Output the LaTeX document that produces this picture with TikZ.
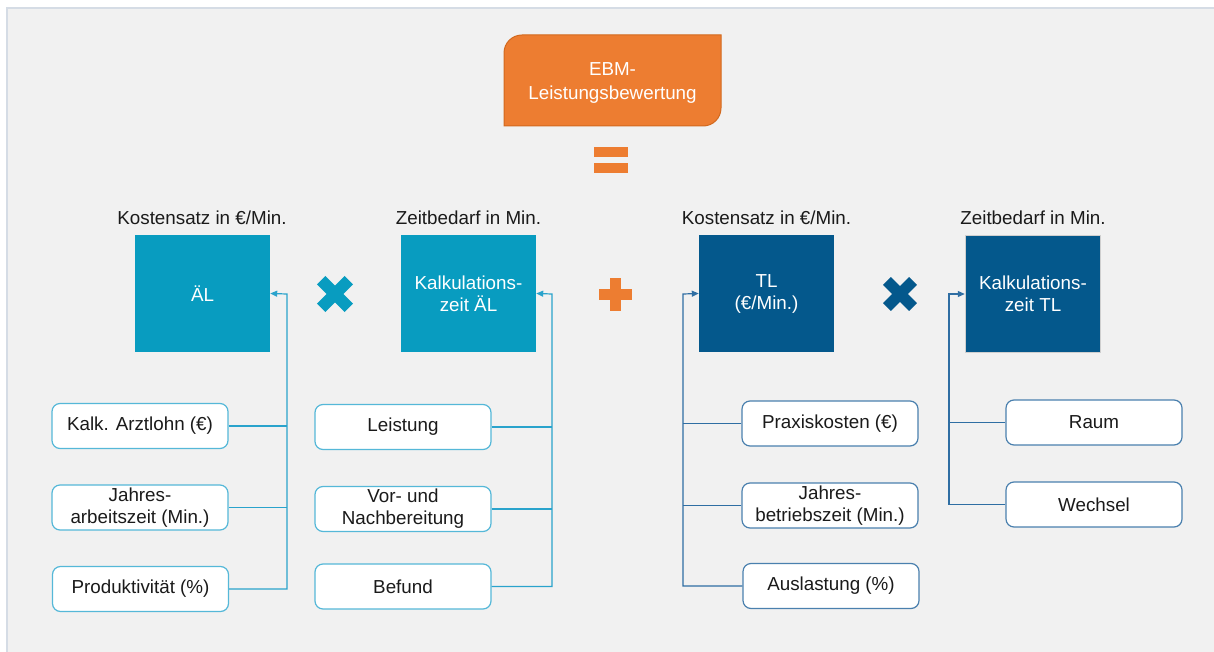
\documentclass[tikz,border=0pt]{standalone}
\usepackage{fontspec}
\setmainfont{Liberation Sans}
\usetikzlibrary{arrows.meta,calc,backgrounds}

\definecolor{panelfill}{HTML}{F1F1F1}
\definecolor{panelrule}{HTML}{D5DCE5}
\definecolor{ebmorange}{HTML}{ED7D31}
\definecolor{ebmedge}{HTML}{D2691E}
\definecolor{aeteal}{HTML}{089CC0}
\definecolor{aeline}{HTML}{2AA3CC}
\definecolor{aeedge}{HTML}{55B8D8}
\definecolor{tlblue}{HTML}{04588C}
\definecolor{tlline}{HTML}{2F6EA3}
\definecolor{tledge}{HTML}{4A80AE}
\definecolor{inktext}{HTML}{1A1A1A}
\definecolor{greyedge}{HTML}{CFCFCF}

\tikzset{
  hdr/.style={text=inktext, inner sep=0pt},
  bigbox/.style={minimum width=135pt, minimum height=117pt, inner sep=0pt,
                 text=white, align=center},
  aebox/.style={bigbox, fill=aeteal},
  tlbox/.style={bigbox, fill=tlblue},
  subbox/.style={rounded corners=8pt, fill=white, line width=1.2pt,
                 minimum width=176pt, minimum height=45pt, inner sep=0pt,
                 align=center, text=inktext},
  aesub/.style={subbox, draw=aeedge},
  tlsub/.style={subbox, draw=tledge},
  conna/.style={draw=aeline, line width=1.2pt},
  connt/.style={draw=tlline, line width=1.2pt},
  tip/.style={-{Triangle[length=7pt,width=6pt]}},
}

\begin{document}
\begin{tikzpicture}[x=1pt,y=-1pt,font=\fontsize{18.8}{22}\selectfont]
\useasboundingbox (0,0) rectangle (1214,652);

% headline box with two rounded corners
\node[text=white, align=center, inner sep=0pt, font=\fontsize{18.8}{23.5}\selectfont]
  (ebm) at (612.5,83) {EBM-\\Leistungsbewertung};
\begin{scope}[on background layer]
  % backdrop panel
  \fill[panelfill] (7,8) rectangle (1214,652);
  \draw[panelrule,line width=2pt] (7,652) -- (7,8) -- (1214,8);
  \draw[fill=ebmorange, draw=ebmedge, line width=1pt]
    (504,126) -- (504,53)
    .. controls (504,43) and (512,35) .. (522,35)
    -- (721,35) -- (721,108)
    .. controls (721,118) and (713,126) .. (703,126)
    -- cycle;
\end{scope}

% equals sign
\fill[ebmorange] (594,147) rectangle (628,157);
\fill[ebmorange] (594,163) rectangle (628,173);

% column headers
\node[hdr] (h1) at (202,218) {Kostensatz in €/Min.};
\node[hdr] (h2) at (468.5,218) {Zeitbedarf in Min.};
\node[hdr] (h3) at (766.5,218) {Kostensatz in €/Min.};
\node[hdr] (h4) at (1033,218) {Zeitbedarf in Min.};

% factor boxes
\node[aebox] (AL) at (202.5,293.5) {ÄL};
\node[aebox] (KAL) at (468.5,293.5) {Kalkulations-\\zeit ÄL};
\node[tlbox] (TL) at (766.5,293.5) {TL\\(€/Min.)};
\node[tlbox, draw=greyedge, line width=1.5pt] (KTL) at (1033,294) {Kalkulations-\\zeit TL};

% operators
\foreach \ang in {45,-45}{
  \fill[aeteal, rotate around={\ang:(335,294)}] (315.5,288) rectangle (354.5,300);
  \fill[tlblue, rotate around={\ang:(900,294)}] (881.5,288.5) rectangle (918.5,299.5);
}
\fill[ebmorange] (598.5,288.5) rectangle (631.5,299.5);
\fill[ebmorange] (609.5,277.5) rectangle (620.5,310.5);

% inputs of the physician rate
\node[aesub] (a1) at (140,426) {Kalk. Arztlohn (€)};
\node[aesub] (a2) at (140,507.5) {Jahres-\\arbeitszeit (Min.)};
\node[aesub] (a3) at (140.5,589) {Produktivität (\%)};

% inputs of the physician time
\node[aesub] (b1) at (403,427) {Leistung};
\node[aesub] (b2) at (403,509) {Vor- und\\Nachbereitung};
\node[aesub] (b3) at (403,586.5) {Befund};

% inputs of the technical rate
\node[tlsub] (c1) at (830,423.5) {Praxiskosten (€)};
\node[tlsub] (c2) at (830,505.5) {Jahres-\\betriebszeit (Min.)};
\node[tlsub] (c3) at (831,586) {Auslastung (\%)};

% inputs of the technical time
\node[tlsub] (d1) at (1094,422.5) {Raum};
\node[tlsub] (d2) at (1094,504.5) {Wechsel};

% connector trunks
\coordinate (tA) at (287,294);
\coordinate (tB) at (552,294);
\coordinate (tC) at (683,294);
\coordinate (tD) at (949,294);

\draw[conna,tip] (a3.east) -| (tA) -- (AL.east);
\draw[conna] (a1.east) -- (a1.east -| tA);
\draw[conna] (a2.east) -- (a2.east -| tA);

\draw[conna,tip] (b3.east) -| (tB) -- (KAL.east);
\draw[conna] (b1.east) -- (b1.east -| tB);
\draw[conna] (b2.east) -- (b2.east -| tB);

\draw[connt,tip] (c3.west) -| (tC) -- (TL.west);
\draw[connt] (c1.west) -- (c1.west -| tC);
\draw[connt] (c2.west) -- (c2.west -| tC);

\draw[connt,tip] (d2.west) -| (tD) -- (KTL.west);
\draw[connt] (d1.west) -- (d1.west -| tD);
\end{tikzpicture}
\end{document}
